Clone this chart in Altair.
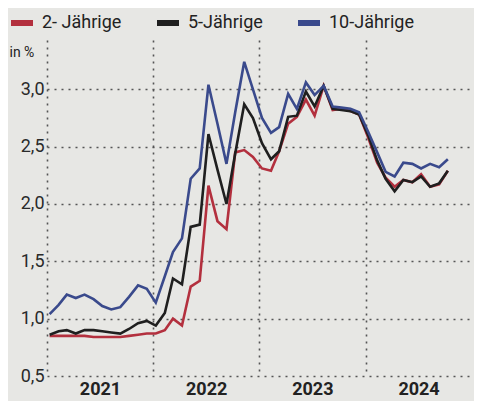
import altair as alt
import pandas as pd

# month index 0 = Jan 2021 ... 45 = Oct 2024
blue_10y = [1.04, 1.12, 1.21, 1.18, 1.21, 1.17, 1.11, 1.08, 1.10, 1.19,
            1.29, 1.26, 1.14, 1.37, 1.58, 1.70, 2.22, 2.31, 3.04, 2.70,
            2.35, 2.80, 3.24, 3.00, 2.75, 2.62, 2.67, 2.96, 2.83, 3.06,
            2.95, 3.03, 2.85, 2.84, 2.83, 2.80, 2.63, 2.45, 2.28, 2.24,
            2.36, 2.35, 2.31, 2.35, 2.32, 2.39]
black_5y = [0.86, 0.89, 0.90, 0.87, 0.90, 0.90, 0.89, 0.88, 0.87, 0.91,
            0.96, 0.98, 0.94, 1.05, 1.35, 1.30, 1.80, 1.82, 2.61, 2.30,
            2.00, 2.44, 2.87, 2.75, 2.53, 2.39, 2.46, 2.76, 2.77, 2.98,
            2.85, 3.03, 2.83, 2.82, 2.81, 2.78, 2.60, 2.38, 2.22, 2.11,
            2.21, 2.19, 2.24, 2.15, 2.18, 2.29]
red_2y = [0.85, 0.85, 0.85, 0.85, 0.85, 0.84, 0.84, 0.84, 0.84, 0.85,
          0.86, 0.87, 0.87, 0.90, 1.00, 0.94, 1.28, 1.33, 2.16, 1.85,
          1.78, 2.45, 2.47, 2.41, 2.31, 2.29, 2.46, 2.70, 2.76, 2.91,
          2.77, 3.03, 2.82, 2.83, 2.81, 2.78, 2.58, 2.36, 2.23, 2.15,
          2.21, 2.19, 2.26, 2.15, 2.17, 2.29]

series_names = ["2- Jährige", "5-Jährige", "10-Jährige"]
series_colors = ["#b3303e", "#1f1f1f", "#3a4a8c"]
year_ticks = ["2021-01-01", "2022-01-01", "2023-01-01", "2024-01-01"]
y_ticks = [0.5, 1.0, 1.5, 2.0, 2.5, 3.0]

dates = pd.date_range("2021-01-01", periods=len(red_2y), freq="MS") + pd.Timedelta(days=9)
rows = []
for name, vals in zip(series_names, [red_2y, black_5y, blue_10y]):
    for d, v in zip(dates, vals):
        rows.append({"Datum": d, "Wert": v, "Serie": name})
df = pd.DataFrame(rows)

FONT = "Roboto, sans-serif"

chart = alt.Chart(df).mark_line(strokeWidth=2.6, strokeJoin="miter").encode(
    x=alt.X("Datum:T",
            scale=alt.Scale(domain=["2021-01-01", "2025-01-01"]),
            axis=alt.Axis(values=[pd.Timestamp(t) for t in year_ticks],
                          format="%Y", labelOffset=53, labelAlign="center",
                          labelFontSize=18, labelFont=FONT, labelColor="#222",
                          labelFontWeight="bold",
                          labelPadding=4, ticks=False, domain=False,
                          grid=True, gridDash=[2, 5], gridColor="#555",
                          gridWidth=1.6, title=None)),
    y=alt.Y("Wert:Q",
            scale=alt.Scale(domain=[0.5, 3.43], nice=False),
            axis=alt.Axis(values=y_ticks,
                          labelExpr="replace(format(datum.value, '.1f'), '.', ',')",
                          labelFontSize=18, labelFont=FONT, labelColor="#2a2a2a",
                          labelPadding=3, ticks=False, domain=False,
                          grid=True, gridDash=[2, 5], gridColor="#555",
                          gridWidth=1.6,
                          title="in %", titleAngle=0, titleAlign="left",
                          titleBaseline="middle", titleX=-38, titleY=12,
                          titleFontSize=14, titleFont=FONT,
                          titleFontWeight="normal", titleColor="#222")),
    color=alt.Color("Serie:N",
                    scale=alt.Scale(domain=series_names, range=series_colors),
                    sort=series_names,
                    legend=alt.Legend(title=None, orient="none", legendX=-39,
                                      legendY=-31, direction="horizontal",
                                      symbolType="stroke", symbolSize=484,
                                      symbolStrokeWidth=6, labelFontSize=18,
                                      labelFont=FONT, labelColor="#222",
                                      labelOffset=6, columnPadding=23)),
).properties(
    width=425, height=336,
    autosize=alt.AutoSizeParams(type="none"),
    padding={"left": 39, "top": 32, "right": 2, "bottom": 25},
    background="#e7e7e4",
).configure_view(stroke=None)

chart.save("out.html", embed_options={"renderer": "svg", "actions": False})
